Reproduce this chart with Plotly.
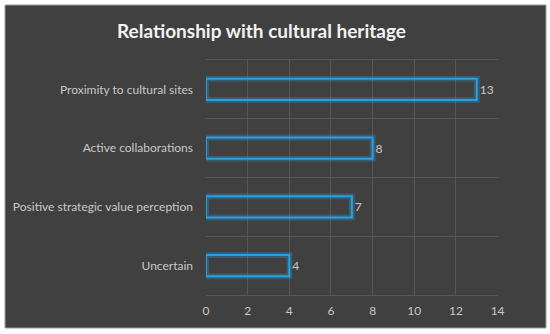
import plotly.graph_objects as go

categories = ["Proximity to cultural sites", "Active collaborations",
              "Positive strategic value perception", "Uncertain"]
values = [13, 8, 7, 4]
x_ticks = [0, 2, 4, 6, 8, 10, 12, 14]

BG = "#404040"
BLUE = "#2a9fe2"
TXT = "#c8c8c8"
GRID = "#575757"
FONT = "Lato"

fig = go.Figure()
# glow layer
fig.add_trace(go.Bar(
    y=categories, x=values, orientation="h", width=0.36,
    marker=dict(color="rgba(0,0,0,0)", line=dict(color="rgba(40,160,230,0.28)", width=6)),
    hoverinfo="skip", showlegend=False,
))
# main outline
fig.add_trace(go.Bar(
    y=categories, x=values, orientation="h", width=0.36,
    marker=dict(color="rgba(0,0,0,0)", line=dict(color=BLUE, width=2)),
    text=[str(v) for v in values], textposition="outside",
    textfont=dict(color=TXT, size=12, family=FONT),
    cliponaxis=False, showlegend=False,
))

fig.update_layout(
    width=550, height=334,
    barmode="overlay",
    paper_bgcolor="white",
    plot_bgcolor=BG,
    margin=dict(l=206, r=52, t=60, b=39),
    title=dict(text="<b>Relationship with cultural heritage</b>", x=261.5 / 550, xref="container",
               xanchor="center", y=1 - 31 / 334, yanchor="middle",
               font=dict(family=FONT, size=19, color="#f2f2f2")),
    font=dict(family=FONT, color=TXT, size=12),
    shapes=[dict(type="rect", xref="paper", yref="paper", layer="below",
                 x0=(5 - 206) / 292, x1=(546 - 206) / 292,
                 y0=(295 - 328) / 235, y1=(295 - 5) / 235,
                 fillcolor=BG, line=dict(color="#9a9a9a", width=1))],
)
fig.update_xaxes(range=[0, 14.02], tickvals=x_ticks, showgrid=True, gridcolor=GRID,
                 gridwidth=1, zeroline=False,
                 showline=True, mirror=True, linecolor=GRID, linewidth=1,
                 ticks="outside", ticklen=5, tickcolor="rgba(0,0,0,0)",
                 tickfont=dict(color=TXT, size=12, family=FONT))
fig.update_yaxes(autorange="reversed", type="category", tickson="boundaries",
                 showgrid=True, gridcolor=GRID, gridwidth=1, ticks="",
                 ticklabelstandoff=12,
                 tickfont=dict(color=TXT, size=12, family=FONT), showline=False)

fig.write_html("out.html", config={"displayModeBar": False},
               post_script="document.body.style.margin='0';")
